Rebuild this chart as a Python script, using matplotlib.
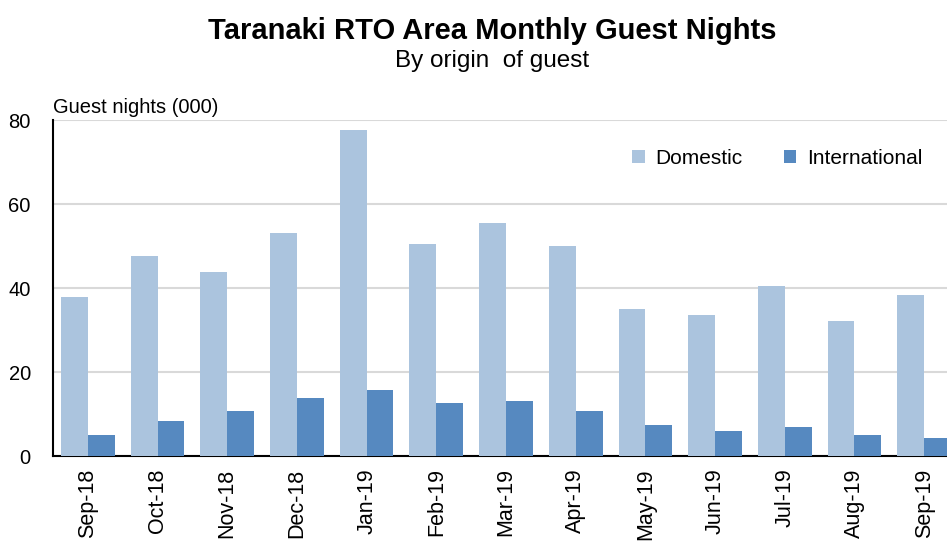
import numpy as np
import matplotlib.pyplot as plt

plt.rcParams['font.family'] = ['Liberation Sans', 'DejaVu Sans']

months = ["Sep-18", "Oct-18", "Nov-18", "Dec-18", "Jan-19", "Feb-19", "Mar-19",
          "Apr-19", "May-19", "Jun-19", "Jul-19", "Aug-19", "Sep-19"]
domestic = [37.9, 47.7, 43.8, 53.0, 77.7, 50.5, 55.4, 50.1, 35.0, 33.6, 40.4, 32.1, 38.4]
international = [4.9, 8.3, 10.7, 13.7, 15.6, 12.7, 13.2, 10.7, 7.4, 5.9, 6.8, 4.9, 4.4]

fig = plt.figure(figsize=(9.47, 5.41), dpi=100)
ax = fig.add_axes([53/947, 1 - 456/541, 906/947, 336/541])

x = np.arange(len(months))
w = 0.385
ax.bar(x - w/2, domestic, w, color="#abc4de", label="Domestic", zorder=3)
ax.bar(x + w/2, international, w, color="#5689c0", label="International", zorder=3)

ax.set_xlim(-0.5, len(months) - 0.5)
ax.set_ylim(0, 80)
ax.set_yticks([0, 20, 40, 60, 80])
ax.set_xticks(x)
ax.set_xticklabels(months, rotation=90, fontsize=15.5)
ax.tick_params(axis='y', labelsize=14.5, length=0, pad=16)
ax.tick_params(axis='x', length=0, pad=9)
ax.yaxis.grid(True, color="#d9d9d9", lw=1.5, zorder=0)

for s in ["top", "right"]:
    ax.spines[s].set_visible(False)
ax.spines["left"].set_linewidth(1.5)
ax.spines["bottom"].set_linewidth(1.5)

ax.text(0, 1.01, "Guest nights (000)", transform=ax.transAxes, fontsize=14.5,
        ha="left", va="bottom")

fig.text(492/947, 1 - 31/541, "Taranaki RTO Area Monthly Guest Nights",
         fontsize=21, fontweight="bold", ha="center", va="center")
fig.text(492/947, 1 - 61/541, "By origin  of guest", fontsize=17.5,
         ha="center", va="center")

ax.legend(loc="upper right", bbox_to_anchor=(0.98, 0.97), ncol=2, frameon=False,
          fontsize=15, handlelength=0.6, handleheight=0.6, columnspacing=2.0,
          handletextpad=0.5)

fig.savefig("out.png", dpi=100)
